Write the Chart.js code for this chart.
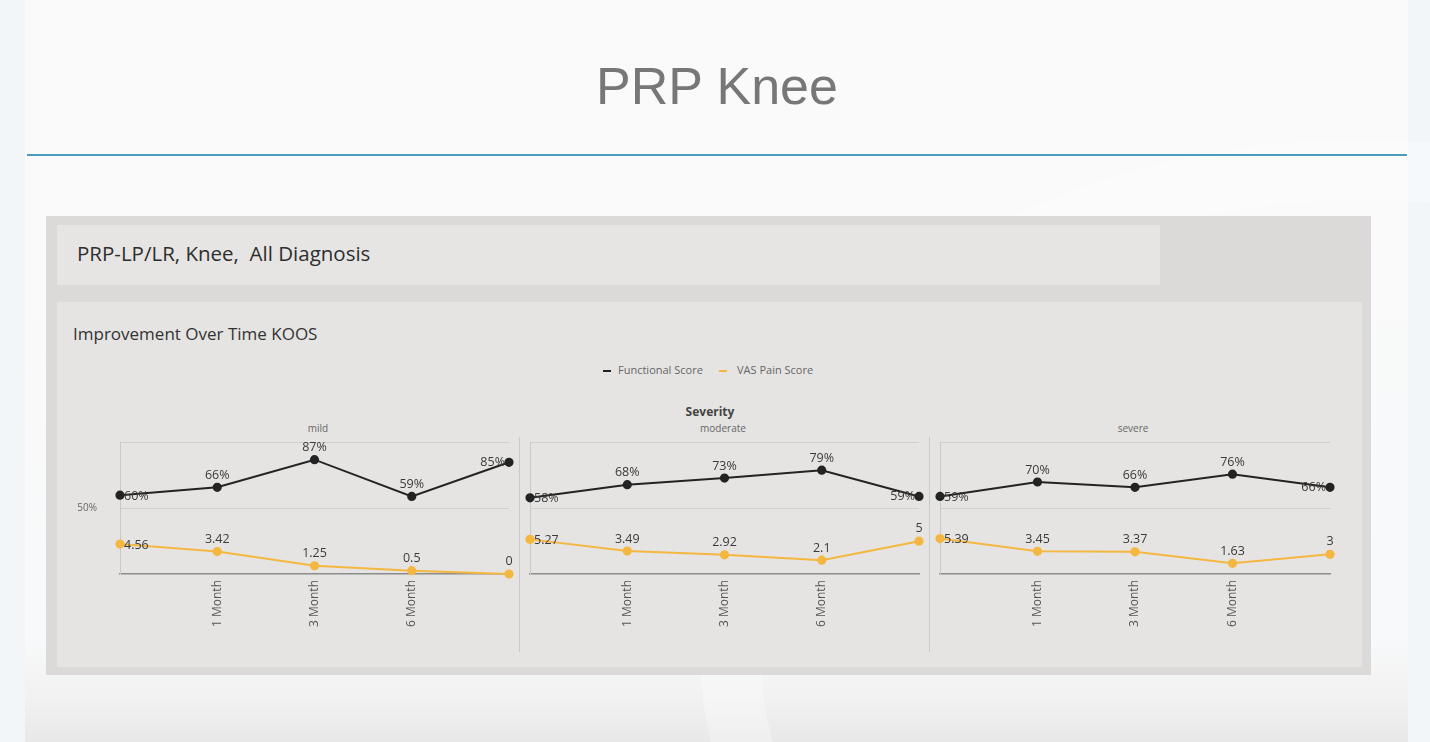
<!DOCTYPE html>
<html>
<head>
<meta charset="utf-8">
<script src="https://cdn.jsdelivr.net/npm/chart.js@4.4.1/dist/chart.umd.min.js"></script>
<style>
  html, body { margin: 0; padding: 0; }
  body { width: 1430px; height: 742px; position: relative; overflow: hidden;
         background: #f3f6f9; font-family: "Open Sans", sans-serif; }
  .slide { position: absolute; left: 25px; top: 0; width: 1383px; height: 742px;
           background: linear-gradient(to bottom, #fafafb 0px, #f8f9fa 640px, #f1f1f1 700px, #e8e8e8 742px); }
  .swoosh { position: absolute; left: 700px; top: 140px; width: 1200px; height: 900px; border-radius: 50%;
            border: 60px solid rgba(255,255,255,0.3); border-right-color: transparent; border-bottom-color: transparent; }
  .abs { position: absolute; }
  .title { left: 0; width: 1434px; top: 51px; text-align: center; font-family: "Liberation Sans", Arial, sans-serif;
           font-size: 52px; color: #777; line-height: 70px; }
  .rule { left: 27px; top: 154px; width: 1380px; height: 2px; background: #4b9cbd; }
  .outer { left: 46px; top: 216px; width: 1325px; height: 459px; background: #dbdad9; }
  .head { left: 57px; top: 225px; width: 1103px; height: 60px; background: #e6e5e3; }
  .headtxt { left: 77px; top: 239px; font-size: 20.5px; color: #2e2e2e; white-space: pre; }
  .card { left: 57px; top: 302px; width: 1305px; height: 365px; background: #e5e4e2; }
  .cardtitle { left: 73px; top: 322px; font-size: 17px; color: #333; }
  .legend { top: 362px; font-size: 11px; color: #666; white-space: nowrap; }
  .dash { position: absolute; top: 370px; height: 2px; width: 8px; }
  .sev { left: 610px; width: 200px; text-align: center; top: 403px; font-size: 12px; font-weight: bold; color: #444; }
  .sub { top: 421px; font-size: 10px; color: #666; text-align: center; width: 120px; }
  .div { top: 437px; width: 1px; height: 215px; background: #c9c9c9; }
  .cw { position: absolute; top: 437px; height: 225px; }
</style>
</head>
<body>
<div class="slide"></div>
<div class="swoosh abs"></div>
<div class="abs title">PRP Knee</div>
<div class="abs rule"></div>
<div class="abs outer"></div>
<div class="abs head"></div>
<div class="abs headtxt">PRP-LP/LR, Knee,  All Diagnosis</div>
<div class="abs card"></div>
<div class="abs cardtitle">Improvement Over Time KOOS</div>
<div class="dash" style="left:603px;background:#222;"></div>
<div class="abs legend" style="left:618px;">Functional Score</div>
<div class="dash" style="left:719px;background:#f4b740;"></div>
<div class="abs legend" style="left:737px;">VAS Pain Score</div>
<div class="abs sev">Severity</div>
<div class="abs sub" style="left:258px;">mild</div>
<div class="abs sub" style="left:663px;">moderate</div>
<div class="abs sub" style="left:1073px;">severe</div>
<div class="abs div" style="left:519px;"></div>
<div class="abs div" style="left:929px;"></div>

<div class="cw" style="left:60px;width:460px;"><canvas id="c0"></canvas></div>
<div class="cw" style="left:520px;width:410px;"><canvas id="c1"></canvas></div>
<div class="cw" style="left:930px;width:411px;"><canvas id="c2"></canvas></div>

<script>
// ---- data ----
const tickLabels = ['', '1 Month', '3 Month', '6 Month', ''];
const panels = ['mild', 'moderate', 'severe'];
const functionalMild     = [0.60, 0.66, 0.87, 0.59, 0.85];
const functionalModerate = [0.58, 0.68, 0.73, 0.79, 0.59];
const functionalSevere   = [0.59, 0.70, 0.66, 0.76, 0.66];
const vasMild     = [4.56, 3.42, 1.25, 0.5, 0];
const vasModerate = [5.27, 3.49, 2.92, 2.1, 5];
const vasSevere   = [5.39, 3.45, 3.37, 1.63, 3];
const seriesNames = ['Functional Score', 'VAS Pain Score'];
const yTickLabel = '50%';

const functionalSets = [functionalMild, functionalModerate, functionalSevere];
const vasSets = [vasMild, vasModerate, vasSevere];

const BLACK = '#232323';
const ORANGE = '#f4b740';

const valueLabels = {
  id: 'valueLabels',
  afterDatasetsDraw(chart) {
    const ctx = chart.ctx;
    ctx.save();
    ctx.font = '12.5px "Open Sans", sans-serif';
    ctx.fillStyle = '#3a3a3a';
    ctx.textBaseline = 'middle';
    chart.data.datasets.forEach((ds, di) => {
      const meta = chart.getDatasetMeta(di);
      meta.data.forEach((pt, i) => {
        const v = ds.data[i];
        const txt = di === 0 ? Math.round(v * 100) + '%' : String(v);
        const last = i === ds.data.length - 1;
        if (i === 0) {
          ctx.textAlign = 'left';
          ctx.fillText(txt, pt.x + 4, pt.y + 1);
        } else if (last && di === 0) {
          ctx.textAlign = 'right';
          ctx.fillText(txt, pt.x - 4, pt.y);
        } else {
          ctx.textAlign = 'center';
          ctx.fillText(txt, pt.x, pt.y - (last ? 13 : 12));
        }
      });
    });
    ctx.restore();
  }
};

panels.forEach((name, p) => {
  const first = p === 0;
  new Chart(document.getElementById('c' + p), {
    type: 'line',
    data: {
      labels: tickLabels,
      datasets: [
        { label: seriesNames[0], data: functionalSets[p], yAxisID: 'y',
          borderColor: BLACK, backgroundColor: BLACK, borderWidth: 2,
          pointRadius: 3.6, pointHoverRadius: 3.6, tension: 0, clip: false },
        { label: seriesNames[1], data: vasSets[p], yAxisID: 'y1',
          borderColor: ORANGE, backgroundColor: ORANGE, borderWidth: 2,
          pointRadius: 3.6, pointHoverRadius: 3.6, tension: 0, clip: false }
      ]
    },
    options: {
      responsive: true,
      maintainAspectRatio: false,
      animation: false,
      layout: { padding: { top: 5, right: 11, left: 0, bottom: 0 } },
      plugins: { legend: { display: false }, tooltip: { enabled: false }, title: { display: false } },
      scales: {
        x: {
          offset: false,
          grid: { display: false, drawTicks: false },
          border: { display: true, color: '#8c8c8c', width: 1.5 },
          ticks: { minRotation: 90, maxRotation: 90, autoSkip: false, padding: 6,
                   color: '#555', font: { size: 12, family: '"Open Sans", sans-serif' } },
          afterFit: s => { s.height = 88; s.paddingLeft = 0; s.paddingRight = 0; }
        },
        y: {
          position: 'left',
          min: 0, max: 1,
          ticks: { stepSize: 0.5, display: first, padding: 23, color: '#666',
                   font: { size: 10, family: '"Open Sans", sans-serif' },
                   callback: v => (v === 0.5 ? yTickLabel : '') },
          grid: { drawTicks: false, color: c => (c.tick && c.tick.value === 0 ? 'rgba(0,0,0,0)' : '#cfcfcf') },
          border: { display: true, color: '#c8c8c8' },
          afterFit: s => { s.width = first ? 60 : 10; s.paddingTop = 0; s.paddingBottom = 0; }
        },
        y1: { display: false, min: 0, max: 20 }
      }
    },
    plugins: [valueLabels]
  });
});
</script>
</body>
</html>
